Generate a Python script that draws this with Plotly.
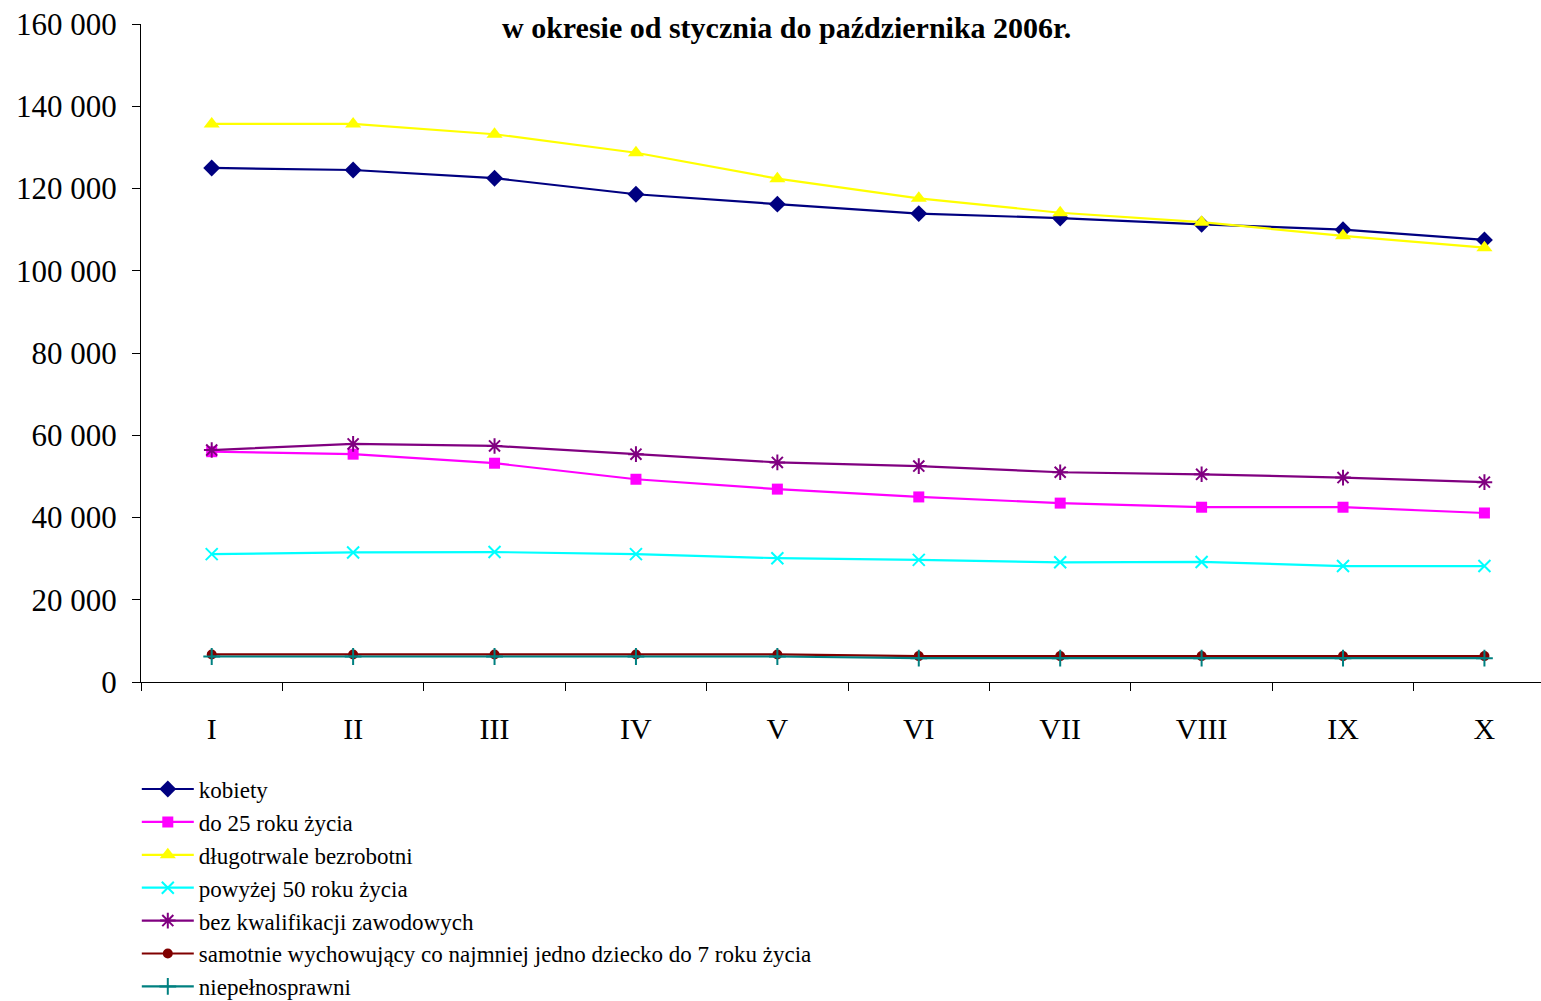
import plotly.graph_objects as go

months = ["I", "II", "III", "IV", "V", "VI", "VII", "VIII", "IX", "X"]

kobiety = [125000, 124500, 122500, 118600, 116200, 113900, 112800, 111300, 110000, 107500]
do_25 = [56000, 55400, 53200, 49300, 46900, 45000, 43500, 42500, 42500, 41100]
dlugotrwale = [135700, 135700, 133200, 128700, 122400, 117600, 114100, 111800, 108500, 105600]
powyzej_50 = [31100, 31500, 31600, 31100, 30100, 29700, 29100, 29200, 28200, 28200]
bez_kwalifikacji = [56400, 57900, 57400, 55400, 53400, 52500, 51000, 50500, 49700, 48600]
samotnie = [6700, 6700, 6700, 6700, 6700, 6300, 6300, 6300, 6300, 6300]
niepelnosprawni = [6200, 6200, 6200, 6200, 6200, 5800, 5800, 5800, 5800, 5800]

title_text = "w okresie od stycznia do października 2006r."

series = [
    ("kobiety", kobiety, "#000080", "diamond", 13),
    ("do 25 roku życia", do_25, "#FF00FF", "square", 11),
    ("długotrwale bezrobotni", dlugotrwale, "#FFFF00", "triangle-up", 14),
    ("powyżej 50 roku życia", powyzej_50, "#00FFFF", "x-thin", 12),
    ("bez kwalifikacji zawodowych", bez_kwalifikacji, "#800080", "asterisk", 13),
    ("samotnie wychowujący co najmniej jedno dziecko do 7 roku życia", samotnie, "#800000", "circle", 10),
    ("niepełnosprawni", niepelnosprawni, "#008080", "cross-thin", 12),
]

fig = go.Figure()
for name, vals, color, sym, size in series:
    thin = sym in ("x-thin", "asterisk", "cross-thin")
    fig.add_trace(go.Scatter(
        x=months, y=vals, name=name, mode="lines+markers",
        line=dict(color=color, width=2.2),
        marker=dict(symbol=sym, size=size, color=color,
                    line=dict(color=color, width=2 if thin else 0)),
    ))

fig.add_annotation(
    text="<b>" + title_text + "</b>",
    xref="paper", yref="paper", x=(786 - 141) / 1400, y=(682 - 27) / 658,
    xanchor="center", yanchor="middle", showarrow=False, align="center",
    font=dict(family="Liberation Serif", size=30, color="black"),
)

fig.update_layout(
    width=1541, height=1001,
    margin=dict(l=141, r=0, t=24, b=319, autoexpand=False),
    paper_bgcolor="white", plot_bgcolor="white",
    separators=", ",
    font=dict(family="Liberation Serif", color="black"),
    showlegend=True,
    legend=dict(
        x=-0.003, xanchor="left", y=-0.130, yanchor="top",
        font=dict(family="Liberation Serif", size=23, color="black"),
        itemwidth=52, tracegroupgap=0, bgcolor="rgba(0,0,0,0)",
    ),
    xaxis=dict(
        type="category", range=[-0.5, 9.4],
        showline=True, linecolor="black", linewidth=1,
        ticks="outside", tickson="boundaries", ticklen=8, tickcolor="black",
        showgrid=False, zeroline=False,
        tickfont=dict(family="Liberation Serif", size=30, color="black"),
        ticklabelstandoff=20,
    ),
    yaxis=dict(
        range=[0, 160000], dtick=20000, tickformat=",d",
        showline=True, linecolor="black", linewidth=1,
        ticks="outside", ticklen=8, tickcolor="black",
        showgrid=False, zeroline=False,
        tickfont=dict(family="Liberation Serif", size=31, color="black"),
        ticklabelstandoff=9,
    ),
)

fig.write_html("out.html", config={"displayModeBar": False},
               post_script="document.body.style.margin='0';document.body.style.overflow='hidden';")
